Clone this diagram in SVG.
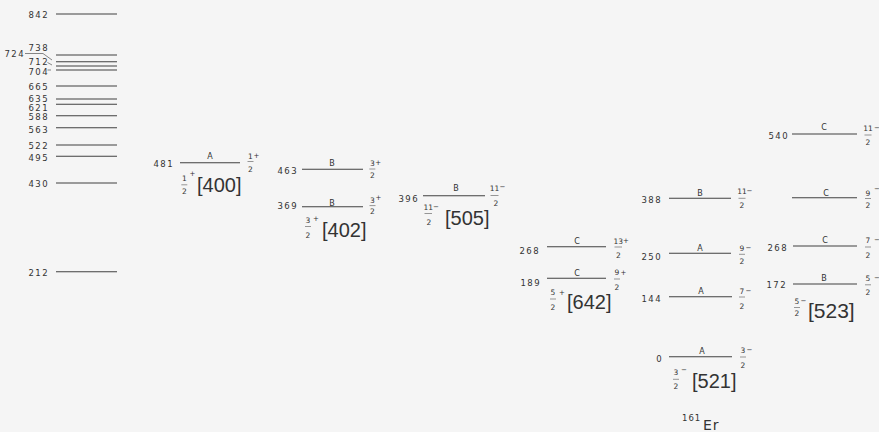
<svg xmlns="http://www.w3.org/2000/svg" width="879" height="432" viewBox="0 0 879 432">
  <style>
    .lv { stroke: #404040; stroke-width: 1.1; fill: none; }
    .ld { stroke: #555; stroke-width: 0.7; fill: none; }
    .fb { stroke: #555; stroke-width: 0.6; }
    .e { font-family: "DejaVu Sans", sans-serif; font-size: 8.5px; letter-spacing: 1.4px; fill: #333; text-anchor: end; }
    .k { font-family: "DejaVu Sans", sans-serif; font-size: 8px; fill: #333; text-anchor: middle; }
    .f { font-family: "DejaVu Sans", sans-serif; font-size: 7.5px; fill: #333; text-anchor: middle; }
    .s { font-family: "DejaVu Sans", sans-serif; font-size: 7px; fill: #333; text-anchor: middle; }
    .nb { font-family: "Liberation Sans", sans-serif; font-size: 20px; fill: #333; }
    .nuc { font-family: "DejaVu Sans", sans-serif; fill: #333; }
  </style>
  <rect width="879" height="432" fill="#f5f5f5"/>

  <!-- high-lying levels, left column -->
  <g id="col-high">
    <g id="lv842"><line class="lv" x1="56" y1="14" x2="117" y2="14"/><text class="e" x="49" y="17.5">842</text></g>
    <g id="lv738"><line class="lv" x1="56" y1="55" x2="117" y2="55"/><text class="e" x="49" y="51">738</text></g>
    <g id="lv724"><line class="lv" x1="56" y1="61.7" x2="117" y2="61.7"/><text class="e" x="25" y="56.5">724</text>
      <polyline class="ld" points="25,53.5 43,53.5 52,60"/></g>
    <g id="lv712"><line class="lv" x1="56" y1="66" x2="117" y2="66"/><text class="e" x="49" y="65">712</text>
      <line class="ld" x1="47.5" y1="62.5" x2="52" y2="65"/></g>
    <g id="lv704"><line class="lv" x1="56" y1="70" x2="117" y2="70"/><text class="e" x="49" y="75">704</text>
      <line class="ld" x1="47.5" y1="70" x2="51" y2="70"/></g>
    <g id="lv665"><line class="lv" x1="56" y1="86" x2="117" y2="86"/><text class="e" x="49" y="89.5">665</text></g>
    <g id="lv635"><line class="lv" x1="56" y1="99" x2="117" y2="99"/><text class="e" x="49" y="101.5">635</text></g>
    <g id="lv621"><line class="lv" x1="56" y1="104.3" x2="117" y2="104.3"/><text class="e" x="49" y="110.5">621</text></g>
    <g id="lv588"><line class="lv" x1="56" y1="115.7" x2="117" y2="115.7"/><text class="e" x="49" y="120">588</text></g>
    <g id="lv563"><line class="lv" x1="56" y1="127.7" x2="117" y2="127.7"/><text class="e" x="49" y="132.5">563</text></g>
    <g id="lv522"><line class="lv" x1="56" y1="145" x2="117" y2="145"/><text class="e" x="49" y="149">522</text></g>
    <g id="lv495"><line class="lv" x1="56" y1="156.3" x2="117" y2="156.3"/><text class="e" x="49" y="161">495</text></g>
    <g id="lv430"><line class="lv" x1="56" y1="183" x2="117" y2="183"/><text class="e" x="49" y="186.5">430</text></g>
    <g id="lv212"><line class="lv" x1="56" y1="271.7" x2="117" y2="271.7"/><text class="e" x="49" y="275.5">212</text></g>
  </g>

  <!-- band 1/2+ [400] -->
  <g id="band400">
    <g id="lv481">
      <text class="e" x="174" y="166.5">481</text>
      <line class="lv" x1="180" y1="162.7" x2="240" y2="162.7"/>
      <text class="k" x="210" y="159">A</text>
      <text class="f" x="250.5" y="158.7">1</text><text class="s" x="256.5" y="157.5">+</text>
      <line class="fb" x1="247.5" y1="161.5" x2="253.5" y2="161.5"/>
      <text class="f" x="250.5" y="172">2</text>
    </g>
    <g id="head400">
      <text class="f" x="184.3" y="181">1</text><text class="s" x="192.5" y="175.5">+</text>
      <line class="fb" x1="181.3" y1="184.8" x2="187.3" y2="184.8"/>
      <text class="f" x="184.3" y="194.4">2</text>
      <text class="nb" x="197" y="192">[400]</text>
    </g>
  </g>

  <!-- band 3/2+ [402] -->
  <g id="band402">
    <g id="lv463">
      <text class="e" x="298" y="174">463</text>
      <line class="lv" x1="302" y1="169.3" x2="363" y2="169.3"/>
      <text class="k" x="332" y="166">B</text>
      <text class="f" x="372.3" y="166">3</text><text class="s" x="378.3" y="164.5">+</text>
      <line class="fb" x1="369.3" y1="169" x2="375.3" y2="169"/>
      <text class="f" x="372.3" y="177.7">2</text>
    </g>
    <g id="lv369">
      <text class="e" x="298" y="209">369</text>
      <line class="lv" x1="302" y1="206.7" x2="363" y2="206.7"/>
      <text class="k" x="332" y="205.5">B</text>
      <text class="f" x="372.5" y="202.7">3</text><text class="s" x="378.5" y="199.5">+</text>
      <line class="fb" x1="369.5" y1="205.6" x2="375.5" y2="205.6"/>
      <text class="f" x="372.5" y="214.4">2</text>
    </g>
    <g id="head402">
      <text class="f" x="308" y="222.7">3</text><text class="s" x="316" y="220.5">+</text>
      <line class="fb" x1="305" y1="226.5" x2="311" y2="226.5"/>
      <text class="f" x="308" y="237.7">2</text>
      <text class="nb" x="322" y="237">[402]</text>
    </g>
  </g>

  <!-- band 11/2- [505] -->
  <g id="band505">
    <g id="lv396">
      <text class="e" x="419" y="201.5">396</text>
      <line class="lv" x1="423" y1="195.7" x2="485" y2="195.7"/>
      <text class="k" x="456" y="191">B</text>
      <text class="f" x="494.5" y="190.7">11</text><text class="s" x="502.5" y="189">−</text>
      <line class="fb" x1="490.5" y1="195.5" x2="498.5" y2="195.5"/>
      <text class="f" x="496" y="205.7">2</text>
    </g>
    <g id="head505">
      <text class="f" x="428.3" y="209.7">11</text><text class="s" x="436" y="208.5">−</text>
      <line class="fb" x1="424.5" y1="213.5" x2="432" y2="213.5"/>
      <text class="f" x="429" y="225.4">2</text>
      <text class="nb" x="445" y="225">[505]</text>
    </g>
  </g>

  <!-- band 5/2+ [642] -->
  <g id="band642">
    <g id="lv268a">
      <text class="e" x="540" y="253.5">268</text>
      <line class="lv" x1="547" y1="246.7" x2="606" y2="246.7"/>
      <text class="k" x="577" y="244">C</text>
      <text class="f" x="618.3" y="243.7">13</text><text class="s" x="626" y="242.5">+</text>
      <line class="fb" x1="614.5" y1="247" x2="622" y2="247"/>
      <text class="f" x="618.3" y="257.7">2</text>
    </g>
    <g id="lv189">
      <text class="e" x="541" y="286">189</text>
      <line class="lv" x1="547" y1="278.3" x2="606" y2="278.3"/>
      <text class="k" x="577" y="275.5">C</text>
      <text class="f" x="617" y="275.4">9</text><text class="s" x="623.5" y="274.5">+</text>
      <line class="fb" x1="614" y1="279" x2="620" y2="279"/>
      <text class="f" x="617" y="290">2</text>
    </g>
    <g id="head642">
      <text class="f" x="553" y="295.4">5</text><text class="s" x="562" y="294.5">+</text>
      <line class="fb" x1="550" y1="299" x2="556" y2="299"/>
      <text class="f" x="553" y="309.7">2</text>
      <text class="nb" x="567" y="309">[642]</text>
    </g>
  </g>

  <!-- band 3/2- [521], ground state -->
  <g id="band521">
    <g id="lv388">
      <text class="e" x="662" y="202.5">388</text>
      <line class="lv" x1="669" y1="198.3" x2="731" y2="198.3"/>
      <text class="k" x="700" y="195.6">B</text>
      <text class="f" x="742" y="194.4">11</text><text class="s" x="749.5" y="193">−</text>
      <line class="fb" x1="738.5" y1="198.3" x2="745.5" y2="198.3"/>
      <text class="f" x="742" y="207.7">2</text>
    </g>
    <g id="lv250">
      <text class="e" x="662" y="259.5">250</text>
      <line class="lv" x1="669" y1="253.3" x2="731" y2="253.3"/>
      <text class="k" x="700" y="251.2">A</text>
      <text class="f" x="742" y="251">9</text><text class="s" x="748.5" y="250">−</text>
      <line class="fb" x1="739" y1="254.3" x2="745" y2="254.3"/>
      <text class="f" x="742" y="264.4">2</text>
    </g>
    <g id="lv144">
      <text class="e" x="662" y="301.8">144</text>
      <line class="lv" x1="669" y1="296.7" x2="732" y2="296.7"/>
      <text class="k" x="701" y="294">A</text>
      <text class="f" x="742" y="293.7">7</text><text class="s" x="748.5" y="292.5">−</text>
      <line class="fb" x1="739" y1="297" x2="745" y2="297"/>
      <text class="f" x="742" y="308.7">2</text>
    </g>
    <g id="lv0">
      <text class="e" x="663" y="361.8">0</text>
      <line class="lv" x1="669" y1="356.7" x2="732" y2="356.7"/>
      <text class="k" x="702" y="353.6">A</text>
      <text class="f" x="743" y="353.4">3</text><text class="s" x="749.5" y="352">−</text>
      <line class="fb" x1="740" y1="357" x2="746" y2="357"/>
      <text class="f" x="743" y="367.7">2</text>
    </g>
    <g id="head521">
      <text class="f" x="676" y="375.4">3</text><text class="s" x="684" y="371.5">−</text>
      <line class="fb" x1="673" y1="379.3" x2="679" y2="379.3"/>
      <text class="f" x="676" y="389.4">2</text>
      <text class="nb" x="692" y="388">[521]</text>
    </g>
  </g>

  <!-- band 5/2- [523] -->
  <g id="band523">
    <g id="lv540">
      <text class="e" x="789" y="138.5">540</text>
      <line class="lv" x1="792" y1="134" x2="857" y2="134"/>
      <text class="k" x="824" y="130.2">C</text>
      <text class="f" x="868" y="131">11</text><text class="s" x="877" y="129.5">−</text>
      <line class="fb" x1="864.5" y1="135" x2="871.5" y2="135"/>
      <text class="f" x="868" y="145.4">2</text>
    </g>
    <g id="lv-c9">
      <line class="lv" x1="792" y1="197.7" x2="857" y2="197.7"/>
      <text class="k" x="826" y="196.2">C</text>
      <text class="f" x="868" y="195.7">9</text><text class="s" x="877" y="190.5">−</text>
      <line class="fb" x1="865" y1="198.5" x2="871" y2="198.5"/>
      <text class="f" x="868" y="207.7">2</text>
    </g>
    <g id="lv268b">
      <text class="e" x="788" y="250.8">268</text>
      <line class="lv" x1="793" y1="246" x2="857" y2="246"/>
      <text class="k" x="825" y="243">C</text>
      <text class="f" x="868" y="242.7">7</text><text class="s" x="877" y="241.5">−</text>
      <line class="fb" x1="865" y1="247" x2="871" y2="247"/>
      <text class="f" x="868" y="257.7">2</text>
    </g>
    <g id="lv172">
      <text class="e" x="787" y="287.5">172</text>
      <line class="lv" x1="793" y1="284" x2="857" y2="284"/>
      <text class="k" x="824" y="281.2">B</text>
      <text class="f" x="868" y="281">5</text><text class="s" x="877" y="279.5">−</text>
      <line class="fb" x1="865" y1="284.8" x2="871" y2="284.8"/>
      <text class="f" x="868" y="295.4">2</text>
    </g>
    <g id="head523">
      <text class="f" x="797" y="304.4">5</text><text class="s" x="803.5" y="302.5">−</text>
      <line class="fb" x1="794" y1="307.5" x2="800" y2="307.5"/>
      <text class="f" x="797" y="316">2</text>
      <text class="nb" x="808" y="318" style="font-size:21px">[523]</text>
    </g>
  </g>

  <!-- nucleus label -->
  <g id="nucleus">
    <text class="nuc" x="682" y="421" style="font-size:8.5px;letter-spacing:1px">161</text>
    <text class="nuc" x="703" y="429.5" style="font-size:14px;letter-spacing:1px">Er</text>
  </g>
</svg>
